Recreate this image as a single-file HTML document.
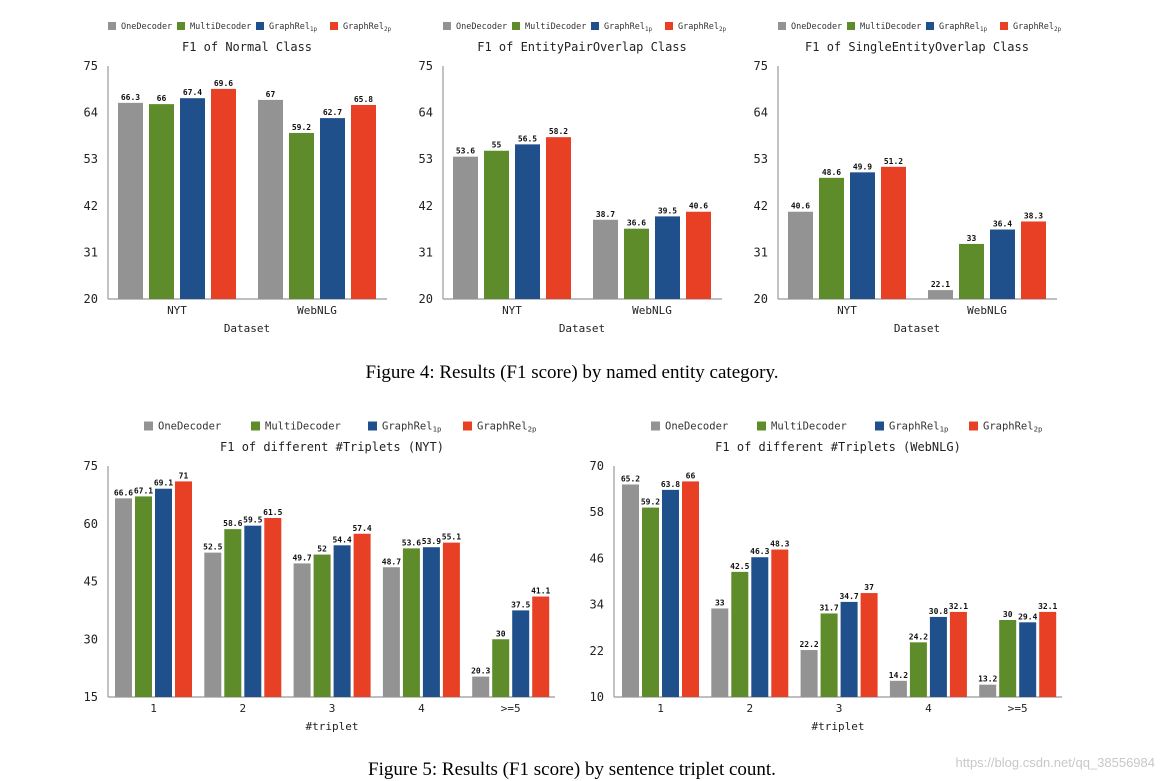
<!DOCTYPE html>
<html><head><meta charset="utf-8"><style>
body{margin:0;background:#fff;width:1163px;height:781px;overflow:hidden}
svg{display:block}
.cap{font-family:"Liberation Serif",serif;font-size:19px;fill:#000}
.mono{font-family:"DejaVu Sans Mono","Liberation Mono",monospace}
</style></head><body>
<svg id="s" width="1163" height="781" xmlns="http://www.w3.org/2000/svg">
<text class="cap" x="572" y="378" text-anchor="middle">Figure 4: Results (F1 score) by named entity category.</text>
<text class="cap" x="572" y="775" text-anchor="middle">Figure 5: Results (F1 score) by sentence triplet count.</text>
<text x="1155" y="767" text-anchor="end" font-family="Liberation Sans, sans-serif" font-size="13" fill="#c8c8c8">https://blog.csdn.net/qq_38556984</text>
</svg>
<script>
const seriesNames=["OneDecoder","MultiDecoder","GraphRel","GraphRel"];
const seriesSubs=["","","1p","2p"];
const colors=["#939393","#5e8c2a","#20508c","#e84025"];
const datasetCats=["NYT","WebNLG"];
const tripletCats=["1","2","3","4",">=5"];
const normalOne=[66.3,67],normalMulti=[66,59.2],normal1p=[67.4,62.7],normal2p=[69.6,65.8];
const epoOne=[53.6,38.7],epoMulti=[55,36.6],epo1p=[56.5,39.5],epo2p=[58.2,40.6];
const seoOne=[40.6,22.1],seoMulti=[48.6,33],seo1p=[49.9,36.4],seo2p=[51.2,38.3];
const nytOne=[66.6,52.5,49.7,48.7,20.3],nytMulti=[67.1,58.6,52,53.6,30],nyt1p=[69.1,59.5,54.4,53.9,37.5],nyt2p=[71,61.5,57.4,55.1,41.1];
const webOne=[65.2,33,22.2,14.2,13.2],webMulti=[59.2,42.5,31.7,24.2,30],web1p=[63.8,46.3,34.7,30.8,29.4],web2p=[66,48.3,37,32.1,32.1];
const ticksTop=[20,31,42,53,64,75];
const ticksNyt=[15,30,45,60,75];
const ticksWeb=[10,22,34,46,58,70];
const NS="http://www.w3.org/2000/svg";
const svg=document.getElementById('s');
function mk(tag,attrs,parent){const e=document.createElementNS(NS,tag);for(const k in attrs)e.setAttribute(k,attrs[k]);(parent||svg).appendChild(e);return e;}
function chart(o){
  const g=mk('g',{});
  
  
  const ymin=o.ticks[0],ymax=o.ticks[o.ticks.length-1];
  const y=v=>o.y1-(v-ymin)/(ymax-ymin)*(o.y1-o.y0);
  // legend
  for(let i=0;i<4;i++){
    const lg=mk('g',{},g);
    
    
    mk('rect',{x:o.legX[i],y:o.legY-o.legS/2,width:o.legS,height:o.legS,fill:colors[i]},lg);
    const t=mk('text',{x:o.legX[i]+o.legS+5,y:o.legY+o.legF*0.35,'font-size':o.legF,fill:'#333',class:'mono'},lg);
    t.textContent=seriesNames[i];
    if(seriesSubs[i]){const ts=mk('tspan',{'font-size':o.legF*0.7,dy:2},t);ts.textContent=seriesSubs[i];}
  }
  const tt=mk('text',{x:o.titleX,y:o.titleY,'text-anchor':'middle','font-size':o.titleF,fill:'#222',class:'mono'},g);
  tt.textContent=o.title;
  
  
  // axes
  mk('line',{x1:o.x0,y1:o.y0,x2:o.x0,y2:o.y1,stroke:'#999','stroke-width':1.2},g);
  mk('line',{x1:o.x0,y1:o.y1,x2:o.x1,y2:o.y1,stroke:'#999','stroke-width':1.2},g);
  o.ticks.forEach(v=>{const t=mk('text',{x:o.x0-10,y:y(v)+4,'text-anchor':'end','font-size':12,fill:'#222',class:'mono'},g);t.textContent=v;
    
    });
  o.cats.forEach((c,gi)=>{
    const gx=o.bx+gi*o.gstep;
    const cx=gx+(3*o.bstep+o.bw)/2;
    const t=mk('text',{x:cx,y:o.y1+15,'text-anchor':'middle','font-size':11,fill:'#222',class:'mono'},g);t.textContent=c;
    
    
    o.series.forEach((arr,si)=>{
      const v=arr[gi];const x=gx+si*o.bstep;
      const r=mk('rect',{x:x,y:y(v),width:o.bw,height:o.y1-y(v),fill:colors[si]},g);
      
      
      const l=mk('text',{x:x+o.bw/2,y:y(v)-3,'text-anchor':'middle','font-size':8,'font-weight':'bold',fill:'#111',class:'mono'},g);
      l.textContent=v;
      
      
    });
  });
  const xt=mk('text',{x:o.xtX,y:o.y1+33,'text-anchor':'middle','font-size':11,fill:'#222',class:'mono'},g);
  xt.textContent=o.xtitle;
  
  
}
const tops=[["F1 of Normal Class",[normalOne,normalMulti,normal1p,normal2p]],["F1 of EntityPairOverlap Class",[epoOne,epoMulti,epo1p,epo2p]],["F1 of SingleEntityOverlap Class",[seoOne,seoMulti,seo1p,seo2p]]];
const tnames=['normal-class-chart','entity-pair-overlap-chart','single-entity-overlap-chart'];
tops.forEach((tp,k)=>{const dx=k*335;
  chart({name:tnames[k],title:tp[0],series:tp[1],cats:datasetCats,ticks:ticksTop,x0:108+dx,x1:387+dx,y0:66,y1:299,bx:118+dx,bw:25,bstep:31,gstep:140,
   legX:[108+dx,177+dx,256+dx,330+dx],legY:26,legS:8,legF:8.5,titleX:247+dx,titleY:51,titleF:12,xtitle:'Dataset',xtX:247+dx});
});
chart({name:'nyt-triplets-chart',title:'F1 of different #Triplets (NYT)',series:[nytOne,nytMulti,nyt1p,nyt2p],cats:tripletCats,ticks:ticksNyt,x0:108,x1:555,y0:466,y1:697,bx:115,bw:17,bstep:20,gstep:89.3,
  legX:[144,251,368,463],legY:426,legS:9,legF:10.5,titleX:332,titleY:451,titleF:12,xtitle:'#triplet',xtX:332});
chart({name:'webnlg-triplets-chart',title:'F1 of different #Triplets (WebNLG)',series:[webOne,webMulti,web1p,web2p],cats:tripletCats,ticks:ticksWeb,x0:614,x1:1062,y0:466,y1:697,bx:622,bw:17,bstep:20,gstep:89.3,
  legX:[651,757,875,969],legY:426,legS:9,legF:10.5,titleX:838,titleY:451,titleF:12,xtitle:'#triplet',xtX:838});
</script>
</body></html>
